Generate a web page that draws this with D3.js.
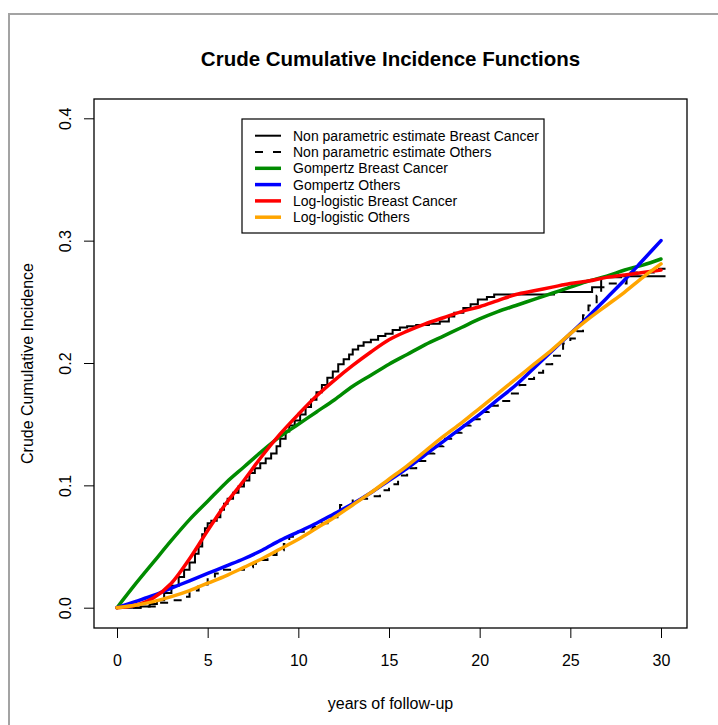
<!DOCTYPE html>
<html>
<head>
<meta charset="utf-8">
<script src="https://cdn.jsdelivr.net/npm/d3@7"></script>
<style>
  html, body { margin: 0; padding: 0; background: #fff; }
  svg { display: block; font-family: "Liberation Sans", Arial, sans-serif; }
</style>
</head>
<body>
<svg id="chart" width="718" height="725"></svg>
<script>
// ---------- data ----------
const years = [0,1,2,3,4,5,6,7,8,9,10,11,12,13,14,15,16,17,18,19,20,21,22,23,24,25,26,27,28,29,30];

const gompertzBreast = [0,0.019,0.037,0.055,0.072,0.087,0.102,0.115,0.128,0.140,0.150,0.160,0.170,0.181,0.190,0.199,0.207,0.215,0.222,0.229,0.236,0.242,0.247,0.252,0.257,0.262,0.267,0.271,0.276,0.280,0.285];
const gompertzOthers = [0,0.005,0.010,0.016,0.022,0.028,0.034,0.040,0.047,0.055,0.062,0.069,0.077,0.085,0.094,0.104,0.114,0.125,0.136,0.147,0.158,0.170,0.182,0.196,0.210,0.224,0.238,0.253,0.268,0.284,0.300];
const loglogBreast = [0,0.002,0.008,0.020,0.040,0.063,0.085,0.104,0.124,0.142,0.158,0.173,0.186,0.198,0.209,0.219,0.226,0.232,0.237,0.242,0.246,0.251,0.256,0.259,0.262,0.265,0.267,0.270,0.272,0.274,0.276];
const loglogOthers = [0,0.002,0.005,0.009,0.014,0.020,0.026,0.033,0.040,0.048,0.056,0.065,0.074,0.084,0.094,0.105,0.116,0.128,0.140,0.151,0.163,0.175,0.187,0.199,0.211,0.224,0.236,0.247,0.258,0.270,0.281];

// non parametric step estimates (time, value)
const npBreastTimes = [0,1.3,1.8,2.2,2.6,3.0,3.4,3.7,4.0,4.3,4.5,4.7,4.85,5.0,5.2,5.5,5.7,5.9,6.1,6.4,6.7,7.0,7.3,7.6,7.9,8.2,8.5,8.8,9.0,9.3,9.5,9.8,10.1,10.4,10.7,11.0,11.3,11.6,11.9,12.2,12.5,12.8,13.0,13.3,13.6,14.0,14.4,14.8,15.2,15.6,16.0,16.5,17.2,17.8,18.3,18.6,19.1,19.5,19.9,20.4,20.8,24.1,26.2,26.7,27.8,30.25];
const npBreastValues = [0,0.001,0.003,0.006,0.012,0.018,0.025,0.031,0.037,0.044,0.050,0.060,0.065,0.069,0.071,0.074,0.080,0.085,0.089,0.094,0.099,0.104,0.110,0.114,0.118,0.122,0.126,0.132,0.138,0.144,0.149,0.153,0.158,0.164,0.170,0.176,0.182,0.188,0.193,0.199,0.203,0.207,0.211,0.214,0.217,0.219,0.222,0.224,0.227,0.229,0.230,0.231,0.232,0.234,0.238,0.241,0.245,0.248,0.252,0.254,0.256,0.258,0.262,0.270,0.271,0.271];

const npOthersTimes = [0,1.3,2.2,3.0,3.6,4.0,4.5,5.0,5.4,5.9,7.0,7.5,7.8,8.3,8.8,9.2,9.5,9.7,10.3,10.8,11.3,11.8,12.3,13.0,14.0,14.5,15.0,15.5,16.0,16.5,17.0,17.5,18.0,18.5,19.0,19.5,20.0,20.5,21.0,21.7,22.2,22.6,23.0,23.5,24.0,24.6,25.0,25.35,25.7,26.0,26.45,26.7,27.0,28.1,29.6,30.25];
const npOthersValues = [0,0.001,0.004,0.006,0.009,0.014,0.019,0.024,0.028,0.031,0.033,0.036,0.039,0.043,0.047,0.052,0.058,0.062,0.064,0.066,0.069,0.074,0.084,0.089,0.091,0.096,0.101,0.108,0.114,0.120,0.126,0.132,0.138,0.143,0.149,0.154,0.160,0.165,0.169,0.175,0.182,0.187,0.192,0.199,0.206,0.216,0.220,0.226,0.239,0.247,0.255,0.262,0.265,0.274,0.277,0.277];

const xTicks = [0,5,10,15,20,25,30];
const yTicks = [0,0.1,0.2,0.3,0.4];

const legendLabels = ["Non parametric estimate Breast Cancer","Non parametric estimate Others","Gompertz Breast Cancer","Gompertz Others","Log-logistic Breast Cancer","Log-logistic Others"];
const legendColors = ["#000000","#000000","#008B00","#0000FF","#FF0000","#FFA500"];

const titleText = "Crude Cumulative Incidence Functions";
const xTitle = "years of follow-up";
const yTitle = "Crude Cumulative Incidence";

// ---------- layout ----------
const svg = d3.select("#chart");
const box = {left: 94, top: 99, right: 687, bottom: 628};
const x = d3.scaleLinear().domain([0, 30]).range([117, 661]);
const y = d3.scaleLinear().domain([0, 0.4]).range([607.7, 118.3]);

// outer grey frame
svg.append("rect").attr("x", 9).attr("y", 14).attr("width", 800).attr("height", 800)
  .attr("fill", "none").attr("stroke", "#a3a3a3").attr("stroke-width", 2);

// title
svg.append("text").attr("x", (box.left + box.right) / 2).attr("y", 66)
  .attr("text-anchor", "middle").attr("font-weight", "bold").attr("font-size", 20.5)
  .attr("fill", "#000").text(titleText);

// axes
const xAxis = svg.append("g").attr("transform", `translate(0,${box.bottom})`)
  .call(d3.axisBottom(x).tickValues(xTicks).tickSize(10).tickFormat(d3.format("d")));
xAxis.select(".domain").remove();
xAxis.selectAll("line").attr("stroke", "#000");
xAxis.selectAll("text").attr("y", 38).attr("dy", 0).attr("font-size", 16)
  .attr("font-family", "Liberation Sans, Arial, sans-serif").attr("fill", "#000");

const yAxis = svg.append("g").attr("transform", `translate(${box.left},0)`)
  .call(d3.axisLeft(y).tickValues(yTicks).tickSize(10).tickFormat(d3.format(".1f")));
yAxis.select(".domain").remove();
yAxis.selectAll("line").attr("stroke", "#000");
yAxis.selectAll("text").attr("transform", "rotate(-90)").attr("x", 0).attr("y", -23).attr("dy", 0)
  .attr("text-anchor", "middle").attr("font-size", 16)
  .attr("font-family", "Liberation Sans, Arial, sans-serif").attr("fill", "#000");

// axis titles
svg.append("text").attr("x", (box.left + box.right) / 2).attr("y", 709)
  .attr("text-anchor", "middle").attr("font-size", 16).attr("fill", "#000").text(xTitle);
svg.append("text").attr("transform", `translate(33,${(box.top + box.bottom) / 2}) rotate(-90)`)
  .attr("text-anchor", "middle").attr("font-size", 16).attr("fill", "#000").text(yTitle);

// curves
const stepLine = d3.line().x(d => x(d[0])).y(d => y(d[1])).curve(d3.curveStepAfter);
const smoothLine = d3.line().x(d => x(d[0])).y(d => y(d[1])).curve(d3.curveMonotoneX);
const plot = svg.append("g");

plot.append("path").datum(npBreastTimes.map((t, i) => [t, npBreastValues[i]]))
  .attr("d", stepLine).attr("fill", "none").attr("stroke", "#000").attr("stroke-width", 2);
plot.append("path").datum(npOthersTimes.map((t, i) => [t, npOthersValues[i]]))
  .attr("d", stepLine).attr("fill", "none").attr("stroke", "#000").attr("stroke-width", 2)
  .attr("stroke-dasharray", "8,8");

const fitted = [
  {vals: gompertzBreast, color: legendColors[2]},
  {vals: gompertzOthers, color: legendColors[3]},
  {vals: loglogBreast, color: legendColors[4]},
  {vals: loglogOthers, color: legendColors[5]}
];
fitted.forEach(f => {
  plot.append("path").datum(years.map((t, i) => [t, f.vals[i]]))
    .attr("d", smoothLine).attr("fill", "none").attr("stroke", f.color)
    .attr("stroke-width", 3.5).attr("stroke-linejoin", "round").attr("stroke-linecap", "round");
});

// plot box
svg.append("rect").attr("x", box.left).attr("y", box.top)
  .attr("width", box.right - box.left).attr("height", box.bottom - box.top)
  .attr("fill", "none").attr("stroke", "#000").attr("stroke-width", 1.3);

// legend
const lg = svg.append("g");
lg.append("rect").attr("x", 242).attr("y", 119).attr("width", 302).attr("height", 114)
  .attr("fill", "#fff").attr("stroke", "#000").attr("stroke-width", 1.2);
legendLabels.forEach((lab, i) => {
  const yy = 135.7 + i * 16.3;
  lg.append("line").attr("x1", 255).attr("x2", 281).attr("y1", yy).attr("y2", yy)
    .attr("stroke", legendColors[i]).attr("stroke-width", i < 2 ? 2 : 3.5)
    .attr("stroke-dasharray", i === 1 ? "8,10" : null);
  lg.append("text").attr("x", 293).attr("y", yy).attr("dy", "0.36em")
    .attr("font-size", 14).attr("fill", "#000").text(lab);
});
</script>
</body>
</html>
